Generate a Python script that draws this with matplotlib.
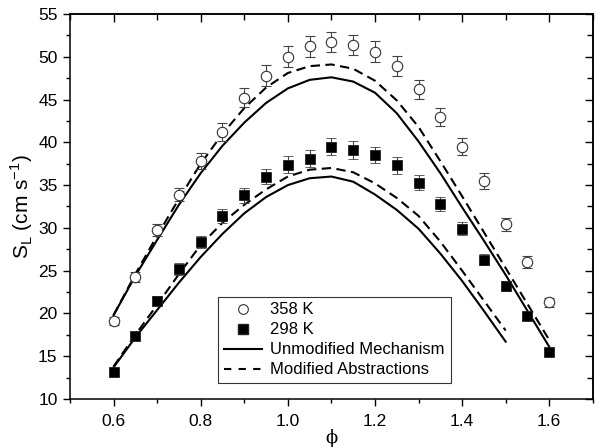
import matplotlib
matplotlib.use("Agg")
import matplotlib.pyplot as plt
from matplotlib.ticker import MultipleLocator, FormatStrFormatter
from matplotlib.lines import Line2D

plt.rcParams['font.family'] = ['Liberation Sans', 'DejaVu Sans']

# Experimental data
phi_exp = [0.60, 0.65, 0.70, 0.75, 0.80, 0.85, 0.90, 0.95, 1.00, 1.05, 1.10,
           1.15, 1.20, 1.25, 1.30, 1.35, 1.40, 1.45, 1.50, 1.55, 1.60]
s358 = [19.1, 24.3, 29.8, 33.9, 37.8, 41.2, 45.2, 47.8, 50.0, 51.2, 51.7,
        51.4, 50.6, 48.9, 46.2, 43.0, 39.5, 35.5, 30.4, 26.0, 21.3]
e358 = [0.5, 0.6, 0.7, 0.8, 0.9, 1.0, 1.1, 1.2, 1.2, 1.2, 1.2,
        1.2, 1.2, 1.2, 1.1, 1.05, 1.0, 0.9, 0.8, 0.7, 0.55]
s298 = [13.1, 17.4, 21.5, 25.2, 28.4, 31.4, 33.8, 36.0, 37.4, 38.1, 39.5,
        39.1, 38.5, 37.3, 35.3, 32.8, 29.9, 26.3, 23.2, 19.7, 15.5]
e298 = [0.35, 0.45, 0.55, 0.65, 0.7, 0.8, 0.85, 0.9, 0.95, 0.95, 1.0,
        1.0, 0.95, 0.95, 0.9, 0.8, 0.75, 0.65, 0.6, 0.5, 0.4]

# Model curves
phi_m = [0.60, 0.65, 0.70, 0.75, 0.80, 0.85, 0.90, 0.95, 1.00, 1.05, 1.10,
         1.15, 1.20, 1.25, 1.30, 1.35, 1.40, 1.45, 1.50, 1.55, 1.60]
unmod_358 = [19.8, 24.4, 28.6, 32.7, 36.4, 39.6, 42.3, 44.6, 46.3, 47.3, 47.6,
             47.1, 45.8, 43.4, 40.1, 36.4, 32.4, 28.5, 24.5, 20.3, 16.1]
mod_358 = [19.8, 24.6, 29.1, 33.4, 37.5, 41.0, 44.0, 46.4, 48.1, 48.9, 49.1,
           48.6, 47.2, 44.9, 41.8, 37.8, 33.7, 29.5, 25.3, 21.1, 16.9]
phi_m298 = [0.60, 0.65, 0.70, 0.75, 0.80, 0.85, 0.90, 0.95, 1.00, 1.05, 1.10,
            1.15, 1.20, 1.25, 1.30, 1.35, 1.40, 1.45, 1.50]
unmod_298 = [13.7, 17.2, 20.4, 23.6, 26.6, 29.3, 31.7, 33.6, 35.0, 35.8, 36.0,
             35.4, 33.9, 32.1, 29.9, 27.0, 23.8, 20.3, 16.7]
mod_298 = [13.8, 17.5, 21.0, 24.6, 28.0, 30.6, 32.7, 34.5, 36.0, 36.8, 37.0,
           36.5, 35.2, 33.5, 31.4, 28.4, 25.0, 21.5, 18.0]

fig = plt.figure(figsize=(6.0, 4.48), dpi=100)
ax = fig.add_axes([0.1167, 0.1094, 0.8713, 0.8594])

lw = 1.5
dash = (0, (4.5, 2.6))
ax.plot(phi_m, unmod_358, color='black', lw=lw, zorder=2, solid_joinstyle='round')
ax.plot(phi_m, mod_358, color='black', lw=lw, linestyle=dash, zorder=2)
ax.plot(phi_m298, unmod_298, color='black', lw=lw, zorder=2, solid_joinstyle='round')
ax.plot(phi_m298, mod_298, color='black', lw=lw, linestyle=dash, zorder=2)

ax.errorbar(phi_exp, s358, yerr=e358, fmt='o', mfc='white', mec='#333333',
            mew=0.8, ms=7.5, ecolor='#444444', elinewidth=0.8, capsize=3.5,
            capthick=0.8, zorder=3)
ax.errorbar(phi_exp, s298, yerr=e298, fmt='s', mfc='black', mec='#222222',
            mew=0.6, ms=6.8, ecolor='#444444', elinewidth=0.8, capsize=3.5,
            capthick=0.8, zorder=3)

ax.set_xlim(0.5, 1.7)
ax.set_ylim(10, 55)
ax.xaxis.set_major_locator(MultipleLocator(0.2))
ax.xaxis.set_minor_locator(MultipleLocator(0.1))
ax.yaxis.set_major_locator(MultipleLocator(5))
ax.yaxis.set_minor_locator(MultipleLocator(2.5))
ax.tick_params(which='both', direction='out', labelsize=12.5, width=1.0)
ax.tick_params(which='major', length=5)
ax.tick_params(which='minor', length=3)
ax.tick_params(axis='x', which='major', pad=6)
ax.tick_params(axis='y', which='major', pad=4)
ax.xaxis.set_major_formatter(FormatStrFormatter('%.1f'))
for sp in ax.spines.values():
    sp.set_linewidth(1.1)

secx = ax.secondary_xaxis('top')
secx.xaxis.set_major_locator(MultipleLocator(0.2))
secx.xaxis.set_minor_locator(MultipleLocator(0.1))
secx.tick_params(which='both', direction='in', labeltop=False, width=1.0)
secx.tick_params(which='major', length=6)
secx.tick_params(which='minor', length=4)
secx.spines['top'].set_linewidth(1.1)
secy = ax.secondary_yaxis('right')
secy.yaxis.set_major_locator(MultipleLocator(5))
secy.yaxis.set_minor_locator(MultipleLocator(2.5))
secy.tick_params(which='both', direction='in', labelright=False, width=1.0)
secy.tick_params(which='major', length=6)
secy.tick_params(which='minor', length=4)
secy.spines['right'].set_linewidth(1.1)

ax.set_xlabel('ϕ', fontsize=13, labelpad=0, family=['DejaVu Serif'])
ax.set_ylabel(r'S$_\mathregular{L}$ (cm s$^\mathregular{-1}$)', fontsize=15, labelpad=2)

handles = [
    Line2D([], [], marker='o', mfc='white', mec='#333333', mew=0.8, ms=7, ls='none'),
    Line2D([], [], marker='s', mfc='black', mec='#222222', ms=6.5, ls='none'),
    Line2D([], [], color='black', lw=lw),
    Line2D([], [], color='black', lw=lw, linestyle=(0, (3.5, 3.5))),
]
labels = ['358 K', '298 K', 'Unmodified Mechanism', 'Modified Abstractions']
leg = ax.legend(handles, labels, loc='upper left', bbox_to_anchor=(0.283, 0.266),
                fontsize=12, frameon=True, fancybox=False, edgecolor='black',
                handlelength=2.3, handletextpad=0.5, borderpad=0.35,
                labelspacing=0.3, borderaxespad=0)
leg.get_frame().set_linewidth(0.8)

fig.savefig('out.png', dpi=100)
